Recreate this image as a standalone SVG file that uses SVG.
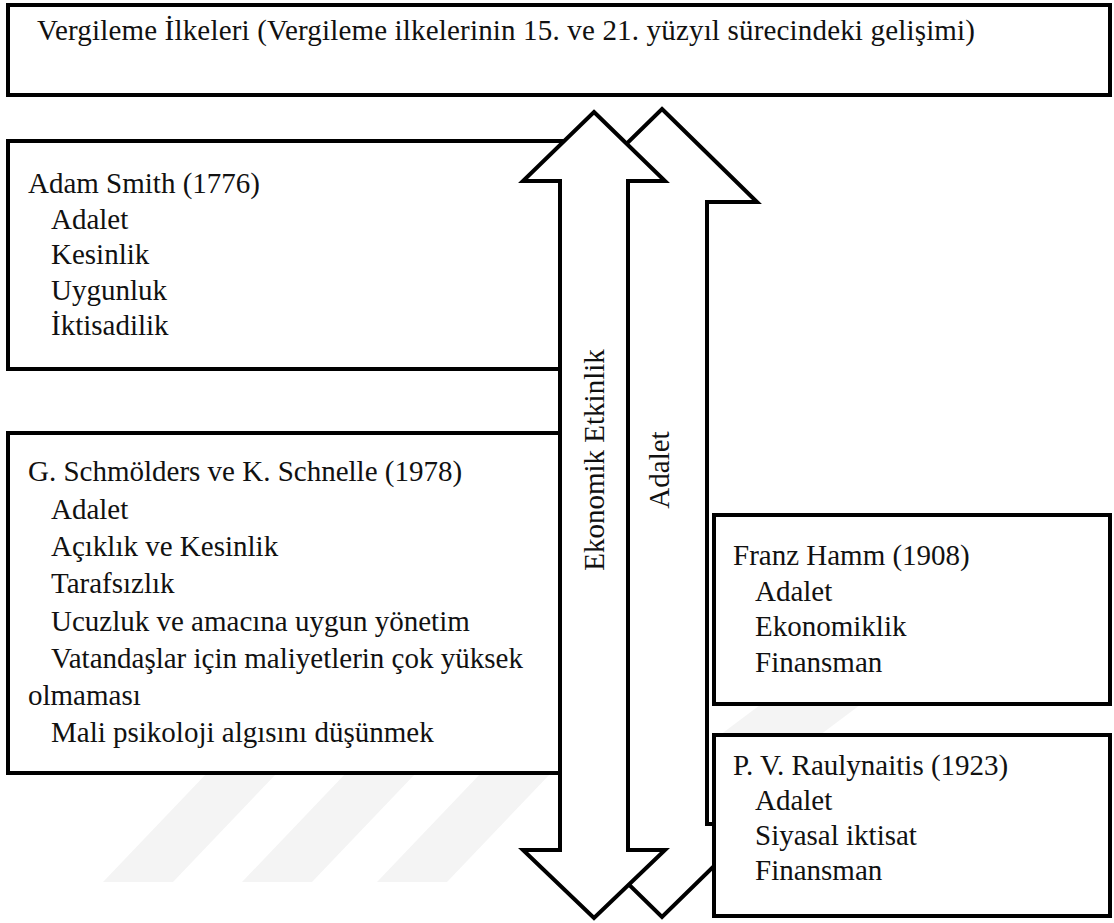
<svg xmlns="http://www.w3.org/2000/svg" width="1114" height="923" viewBox="0 0 1114 923">
<style>
.box{fill:#fff;stroke:#000;stroke-width:4}
.arr{fill:#fff;stroke:#000;stroke-width:4;stroke-linejoin:miter}
text{font-family:"Liberation Serif","Times New Roman",serif;font-size:29px;fill:#111}
.wm{fill:#f4f4f4}
</style>
<rect width="1114" height="923" fill="#fff"/>
<g id="watermark">
<polygon class="wm" points="103,882 173,882 277,773 207,773"/>
<polygon class="wm" points="242,882 312,882 416,773 346,773"/>
<polygon class="wm" points="377,882 447,882 551,773 481,773"/>
<polygon class="wm" points="720,735 760,705 860,705 820,735"/>
</g>
<g id="title">
<rect class="box" x="8" y="5" width="1102" height="90"/>
<text x="37" y="40" textLength="938" lengthAdjust="spacing">Vergileme İlkeleri (Vergileme ilkelerinin 15. ve 21. yüzyıl sürecindeki gelişimi)</text>
</g>
<g id="adam-smith">
<rect class="box" x="8" y="141" width="592" height="228"/>
<text x="28" y="193">Adam Smith (1776)</text>
<text x="51" y="228.5">Adalet</text>
<text x="51" y="264">Kesinlik</text>
<text x="51" y="299.5">Uygunluk</text>
<text x="51" y="335">İktisadilik</text>
</g>
<g id="schmolders">
<rect class="box" x="8" y="433" width="592" height="340"/>
<text x="28" y="481">G. Schmölders ve K. Schnelle (1978)</text>
<text x="51" y="518.5">Adalet</text>
<text x="51" y="556">Açıklık ve Kesinlik</text>
<text x="51" y="593">Tarafsızlık</text>
<text x="51" y="630.5">Ucuzluk ve amacına uygun yönetim</text>
<text x="51" y="667.5">Vatandaşlar için maliyetlerin çok yüksek</text>
<text x="28" y="705">olmaması</text>
<text x="51" y="742">Mali psikoloji algısını düşünmek</text>
</g>
<g id="connectors">
<g id="arrow-adalet">
<path class="arr" d="M662,109 L757,202 L707,202 L707,824 L757,824 L662,917 L567,824 L617,824 L617,202 L567,202 Z"/>
<text transform="translate(669,470) rotate(-90)" text-anchor="middle">Adalet</text>
</g>
<g id="arrow-ekonomik">
<path class="arr" d="M594,112 L665,181 L628,181 L628,850 L665,850 L594,918 L523,850 L560,850 L560,181 L523,181 Z"/>
<text transform="translate(604,460) rotate(-90)" text-anchor="middle">Ekonomik Etkinlik</text>
</g>
</g>
<g id="franz-hamm">
<rect class="box" x="714" y="515" width="396" height="189"/>
<text x="733" y="565">Franz Hamm (1908)</text>
<text x="755" y="600.5">Adalet</text>
<text x="755" y="636">Ekonomiklik</text>
<text x="755" y="671.5">Finansman</text>
</g>
<g id="raulynaitis">
<rect class="box" x="714" y="735" width="396" height="181"/>
<text x="733" y="775">P. V. Raulynaitis (1923)</text>
<text x="755" y="810">Adalet</text>
<text x="755" y="845">Siyasal iktisat</text>
<text x="755" y="880">Finansman</text>
</g>
</svg>
